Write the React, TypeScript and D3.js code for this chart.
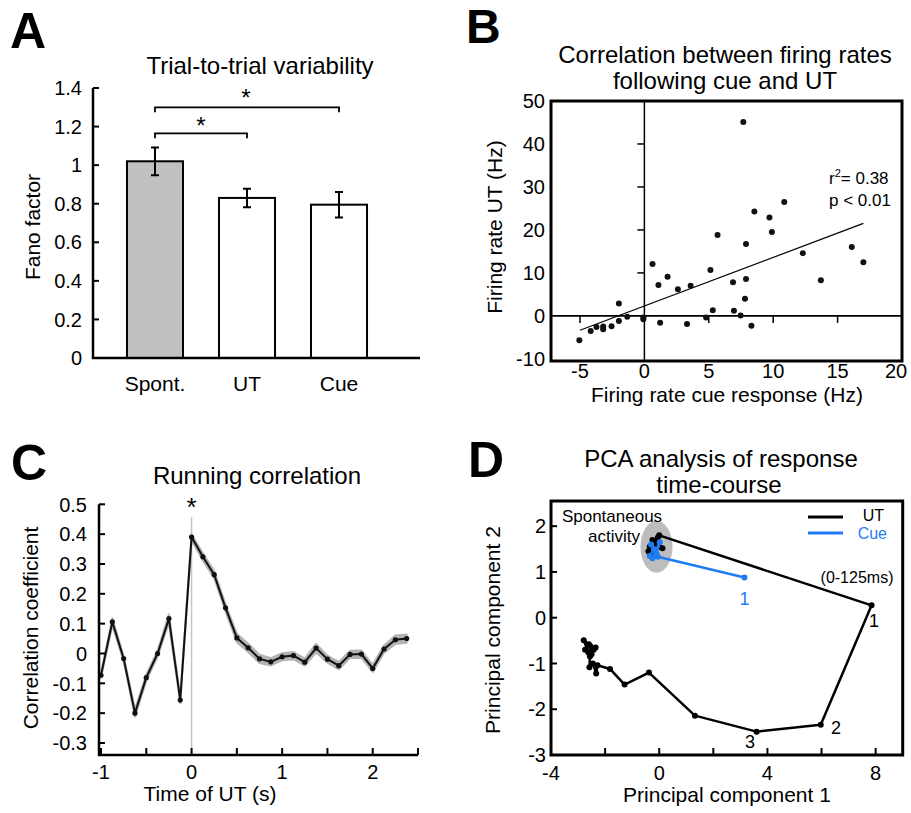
import React from 'react';
import * as d3 from 'd3';

const FONT = 'Liberation Sans, Arial, Helvetica, sans-serif';

// ---------- Panel A data ----------
const fanoCategories = ['Spont.', 'UT', 'Cue'];
const fanoValues = [1.02, 0.83, 0.795];
const fanoErrors = [0.072, 0.048, 0.066];
const fanoFills = ['#c0c0c0', '#ffffff', '#ffffff'];
const fanoTicks = [0, 0.2, 0.4, 0.6, 0.8, 1, 1.2, 1.4];

// ---------- Panel B data ----------
const cueRates = [7.68, 10.86, 8.54, 9.71, 9.9, 5.68, 7.89, 16.1, 12.3, 17.0, 0.63, 5.13, 1.8, 1.09, 6.88, 7.89, 13.7, 3.59, 2.6, 7.81, -1.98, 5.31, 6.95, 7.47, 4.79, -1.33, -0.08, -0.08, -1.98, 1.22, 3.31, 8.31, -2.55, -3.2, -3.2, -3.72, -4.17, -5.05];
const utRates = [45.1, 26.5, 24.3, 22.9, 19.5, 18.8, 16.7, 16.0, 14.6, 12.5, 12.1, 10.7, 9.1, 7.2, 7.8, 8.6, 8.3, 7.0, 6.2, 4.0, 2.9, 1.3, 1.2, 0.1, -0.4, -0.2, -0.4, -0.8, -1.2, -1.6, -1.9, -2.3, -2.4, -2.5, -3.1, -2.6, -3.5, -5.7];
const fitSlope = 1.13;
const fitIntercept = 2.3;
const fitRange = [-5, 17];
const bXTicks = [-5, 0, 5, 10, 15, 20];
const bYTicks = [-10, 0, 10, 20, 30, 40, 50];

// ---------- Panel C data ----------
const corrTimes = [-1, -0.875, -0.75, -0.625, -0.5, -0.375, -0.25, -0.125, 0, 0.125, 0.25, 0.375, 0.5, 0.625, 0.75, 0.875, 1, 1.125, 1.25, 1.375, 1.5, 1.625, 1.75, 1.875, 2, 2.125, 2.25, 2.375];
const corrValues = [-0.073, 0.106, -0.017, -0.2, -0.081, 0.0, 0.117, -0.156, 0.39, 0.324, 0.264, 0.153, 0.052, 0.019, -0.018, -0.028, -0.011, -0.007, -0.029, 0.018, -0.019, -0.041, -0.003, -0.002, -0.05, 0.015, 0.046, 0.05];
const corrSE = [0.008, 0.012, 0.008, 0.012, 0.01, 0.01, 0.014, 0.01, 0.01, 0.012, 0.012, 0.012, 0.014, 0.014, 0.014, 0.012, 0.012, 0.012, 0.012, 0.014, 0.012, 0.012, 0.012, 0.012, 0.012, 0.012, 0.014, 0.014];
const cXTicks = [-1, -0.5, 0, 0.5, 1, 1.5, 2, 2.5];
const cXLabels = [-1, 0, 1, 2];
const cYTicks = [-0.3, -0.2, -0.1, 0, 0.1, 0.2, 0.3, 0.4, 0.5];

// ---------- Panel D data ----------
const utPC1 = [-0.35, -0.25, -0.4, -0.2, -0.3, -0.1, 0.12, -0.15, -0.05, 0, 7.85, 5.97, 3.6, 1.32, -0.38, -1.28, -1.82, -2.28, -2.33, -2.45, -2.58, -2.56, -2.42, -2.35, -2.55, -2.74, -2.62, -2.79, -2.6, -2.5];
const utPC2 = [1.55, 1.7, 1.45, 1.62, 1.38, 1.68, 1.52, 1.5, 1.75, 1.8, 0.27, -2.34, -2.49, -2.14, -1.2, -1.46, -1.12, -1.04, -1.22, -1.0, -1.08, -0.85, -0.7, -0.65, -0.62, -0.7, -0.76, -0.49, -0.58, -0.8];
const cuePC1 = [-0.35, -0.2, -0.3, -0.1, 0.02, -0.25, -0.05, 3.15];
const cuePC2 = [1.35, 1.5, 1.6, 1.4, 1.65, 1.3, 1.33, 0.88];
const dXTicks = [-4, -2, 0, 2, 4, 6, 8];
const dXLabels = [-4, 0, 4, 8];
const dYTicks = [-3, -2, -1, 0, 1, 2];
const BLUE = '#1f7cf5';

const fmt = (v: number) => (Math.abs(v) < 1e-9 ? '0' : String(+v.toFixed(2)));

function PanelA() {
  const y = d3.scaleLinear().domain([0, 1.4]).range([358, 88]);
  const x = d3.scaleBand<string>().domain(fanoCategories).range([91, 403]).paddingInner(0.391).paddingOuter(0.391);
  const axisX = 93;
  const cx = (c: string) => (x(c) as number) + x.bandwidth() / 2;
  const bracket = (a: string, b: string, yv: number) => {
    const yy = y(yv);
    return `M${cx(a)},${yy + 5}V${yy}H${cx(b)}V${yy + 5}`;
  };
  return (
    <g>
      <text x={10} y={48} fontSize={50} fontWeight="bold">A</text>
      <text x={260} y={74} fontSize={24} textAnchor="middle">Trial-to-trial variability</text>
      {fanoCategories.map((c, i) => {
        const x0 = x(c) as number;
        const w = x.bandwidth();
        const m = cx(c);
        return (
          <g key={c}>
            <rect x={x0} y={y(fanoValues[i])} width={w} height={y(0) - y(fanoValues[i])} fill={fanoFills[i]} stroke="#000" strokeWidth={2} />
            <path d={`M${m},${y(fanoValues[i] - fanoErrors[i])}V${y(fanoValues[i] + fanoErrors[i])}M${m - 4},${y(fanoValues[i] - fanoErrors[i])}H${m + 4}M${m - 4},${y(fanoValues[i] + fanoErrors[i])}H${m + 4}`} stroke="#000" strokeWidth={2} fill="none" />
            <text x={m} y={391} fontSize={21} textAnchor="middle">{c}</text>
          </g>
        );
      })}
      <path d={`M${axisX},${y(1.4)}V${y(0)}H420`} stroke="#000" strokeWidth={2.5} fill="none" />
      {fanoTicks.map((t) => (
        <g key={t}>
          <line x1={axisX} x2={axisX + 6} y1={y(t)} y2={y(t)} stroke="#000" strokeWidth={2} />
          <text x={82} y={y(t)} dy="0.36em" fontSize={20} textAnchor="end">{fmt(t)}</text>
        </g>
      ))}
      <text transform={`translate(40,227) rotate(-90)`} fontSize={21} textAnchor="middle">Fano factor</text>
      <path d={bracket('Spont.', 'UT', 1.165)} stroke="#000" strokeWidth={1.8} fill="none" />
      <path d={bracket('Spont.', 'Cue', 1.3)} stroke="#000" strokeWidth={1.8} fill="none" />
      <text x={201} y={134} fontSize={24} textAnchor="middle">*</text>
      <text x={246} y={106} fontSize={24} textAnchor="middle">*</text>
    </g>
  );
}

function PanelB() {
  const x = d3.scaleLinear().domain([-7.25, 20]).range([551, 902]);
  const y = d3.scaleLinear().domain([-10.5, 50]).range([361, 101]);
  return (
    <g>
      <text x={466} y={43} fontSize={48} fontWeight="bold">B</text>
      <text x={725} y={63} fontSize={24} textAnchor="middle">Correlation between firing rates</text>
      <text x={725} y={89} fontSize={24} textAnchor="middle">following cue and UT</text>
      <line x1={x(0)} x2={x(0)} y1={y(50)} y2={y(-10.5)} stroke="#000" strokeWidth={1.5} />
      <line x1={x(-7.25)} x2={x(20)} y1={y(0)} y2={y(0)} stroke="#000" strokeWidth={1.8} />
      {[10, 20, 30, 40].map((t) => (
        <line key={t} x1={x(0) - 7} x2={x(0)} y1={y(t)} y2={y(t)} stroke="#000" strokeWidth={1.5} />
      ))}
      {[-5, 5, 10, 15].map((t) => (
        <line key={t} x1={x(t)} x2={x(t)} y1={y(0)} y2={y(0) + 7} stroke="#000" strokeWidth={1.5} />
      ))}
      <line x1={x(fitRange[0])} x2={x(fitRange[1])} y1={y(fitIntercept + fitSlope * fitRange[0])} y2={y(fitIntercept + fitSlope * fitRange[1])} stroke="#000" strokeWidth={1.2} />
      {cueRates.map((v, i) => (
        <circle key={i} cx={x(v)} cy={y(utRates[i])} r={3} fill="#111" />
      ))}
      <rect x={551} y={101} width={351} height={260} fill="none" stroke="#000" strokeWidth={3} />
      {bYTicks.map((t) => (
        <text key={t} x={545} y={y(t)} dy="0.36em" fontSize={20} textAnchor="end">{t}</text>
      ))}
      {bXTicks.map((t) => (
        <text key={t} x={t === 20 ? x(t) - 6 : x(t)} y={378} fontSize={20} textAnchor="middle">{t}</text>
      ))}
      <text x={829} y={184} fontSize={17}>r<tspan dy={-7} fontSize={11}>2</tspan><tspan dy={7}>= 0.38</tspan></text>
      <text x={829} y={206} fontSize={17}>p &lt; 0.01</text>
      <text transform={`translate(502,227) rotate(-90)`} fontSize={21} textAnchor="middle">Firing rate UT (Hz)</text>
      <text x={727} y={402} fontSize={21} textAnchor="middle">Firing rate cue response (Hz)</text>
    </g>
  );
}

function PanelC() {
  const x = d3.scaleLinear().domain([-1, 2.5]).range([101, 418]);
  const y = d3.scaleLinear().domain([-0.3, 0.5]).range([743, 504.3]);
  const axisX = 99;
  const axisY = 755;
  const idx = corrTimes.map((_, i) => i);
  const area = d3.area<number>().x((i) => x(corrTimes[i])).y0((i) => y(corrValues[i] - corrSE[i])).y1((i) => y(corrValues[i] + corrSE[i]));
  const line = d3.line<number>().x((i) => x(corrTimes[i])).y((i) => y(corrValues[i]));
  return (
    <g>
      <text x={11} y={480} fontSize={50} fontWeight="bold">C</text>
      <text x={257} y={484} fontSize={24} textAnchor="middle">Running correlation</text>
      <line x1={x(0)} x2={x(0)} y1={517} y2={axisY} stroke="#c4c4c4" strokeWidth={1.5} />
      <path d={area(idx) as string} fill="#b4b4b4" stroke="#b4b4b4" strokeWidth={2} strokeLinejoin="round" />
      <path d={line(idx) as string} fill="none" stroke="#111" strokeWidth={2} strokeLinejoin="round" />
      {idx.map((i) => (
        <circle key={i} cx={x(corrTimes[i])} cy={y(corrValues[i])} r={2.6} fill="#111" />
      ))}
      <path d={`M${axisX},${y(0.5)}V${axisY}H418`} stroke="#000" strokeWidth={2.5} fill="none" />
      {cYTicks.map((t) => (
        <g key={t}>
          <line x1={axisX} x2={axisX + 6} y1={y(t)} y2={y(t)} stroke="#000" strokeWidth={2} />
          <text x={87} y={y(t)} dy="0.36em" fontSize={20} textAnchor="end">{fmt(t)}</text>
        </g>
      ))}
      {cXTicks.map((t) => (
        <line key={t} x1={x(t)} x2={x(t)} y1={axisY} y2={axisY - 7} stroke="#000" strokeWidth={2} />
      ))}
      {cXLabels.map((t) => (
        <text key={t} x={x(t)} y={779} fontSize={20} textAnchor="middle">{t}</text>
      ))}
      <text x={x(0)} y={516} fontSize={26} textAnchor="middle">*</text>
      <text transform={`translate(38,628) rotate(-90)`} fontSize={21} textAnchor="middle">Correlation coefficient</text>
      <text x={210} y={801} fontSize={21} textAnchor="middle">Time of UT (s)</text>
    </g>
  );
}

function PanelD() {
  const x = d3.scaleLinear().domain([-4, 9]).range([551, 902.7]);
  const y = d3.scaleLinear().domain([-3, 2.55]).range([755, 501]);
  const ui = utPC1.map((_, i) => i);
  const ci = cuePC1.map((_, i) => i);
  const utLine = d3.line<number>().x((i) => x(utPC1[i])).y((i) => y(utPC2[i]));
  const cueLine = d3.line<number>().x((i) => x(cuePC1[i])).y((i) => y(cuePC2[i]));
  return (
    <g>
      <text x={468} y={477} fontSize={50} fontWeight="bold">D</text>
      <text x={721} y={467} fontSize={24} textAnchor="middle">PCA analysis of response</text>
      <text x={719} y={493} fontSize={24} textAnchor="middle">time-course</text>
      <ellipse cx={x(-0.1)} cy={y(1.55)} rx={16} ry={26} fill="#bdbdbd" />
      <path d={utLine(ui) as string} fill="none" stroke="#000" strokeWidth={2.5} strokeLinejoin="round" />
      {ui.map((i) => (
        <circle key={i} cx={x(utPC1[i])} cy={y(utPC2[i])} r={3} fill="#000" />
      ))}
      <path d={cueLine(ci) as string} fill="none" stroke={BLUE} strokeWidth={2.5} strokeLinejoin="round" />
      {ci.map((i) => (
        <circle key={i} cx={x(cuePC1[i])} cy={y(cuePC2[i])} r={3} fill={BLUE} />
      ))}
      <rect x={551} y={501} width={351.7} height={254} fill="none" stroke="#000" strokeWidth={3} />
      {dYTicks.map((t) => (
        <g key={t}>
          <line x1={551} x2={557} y1={y(t)} y2={y(t)} stroke="#000" strokeWidth={2} />
          <text x={546} y={y(t)} dy="0.36em" fontSize={20} textAnchor="end">{t}</text>
        </g>
      ))}
      {dXTicks.map((t) => (
        <line key={t} x1={x(t)} x2={x(t)} y1={755} y2={748} stroke="#000" strokeWidth={2} />
      ))}
      {dXLabels.map((t) => (
        <text key={t} x={x(t)} y={780} fontSize={20} textAnchor="middle">{t}</text>
      ))}
      <text x={612} y={522} fontSize={17} textAnchor="middle">Spontaneous</text>
      <text x={614} y={542} fontSize={17} textAnchor="middle">activity</text>
      <text x={857} y={583} fontSize={16} textAnchor="middle">(0-125ms)</text>
      <text x={x(3.15)} y={605} fontSize={18} textAnchor="middle" fill={BLUE}>1</text>
      <text x={874} y={627} fontSize={18} textAnchor="middle">1</text>
      <text x={836} y={734} fontSize={18} textAnchor="middle">2</text>
      <text x={750} y={748} fontSize={18} textAnchor="middle">3</text>
      <line x1={808} x2={843} y1={517} y2={517} stroke="#000" strokeWidth={3} />
      <line x1={808} x2={843} y1={533} y2={533} stroke={BLUE} strokeWidth={3} />
      <text x={884} y={521} fontSize={16} textAnchor="end">UT</text>
      <text x={887} y={539} fontSize={16} textAnchor="end" fill={BLUE}>Cue</text>
      <text transform={`translate(500,630) rotate(-90)`} fontSize={21} textAnchor="middle">Principal component 2</text>
      <text x={727} y={802} fontSize={21} textAnchor="middle">Principal component 1</text>
    </g>
  );
}

export default function App() {
  return (
    <svg width={911} height={813} viewBox="0 0 911 813" style={{ position: 'absolute', left: 0, top: 0, background: '#fff' }} fontFamily={FONT}>
      <rect width={911} height={813} fill="#fff" />
      <PanelA />
      <PanelB />
      <PanelC />
      <PanelD />
    </svg>
  );
}
